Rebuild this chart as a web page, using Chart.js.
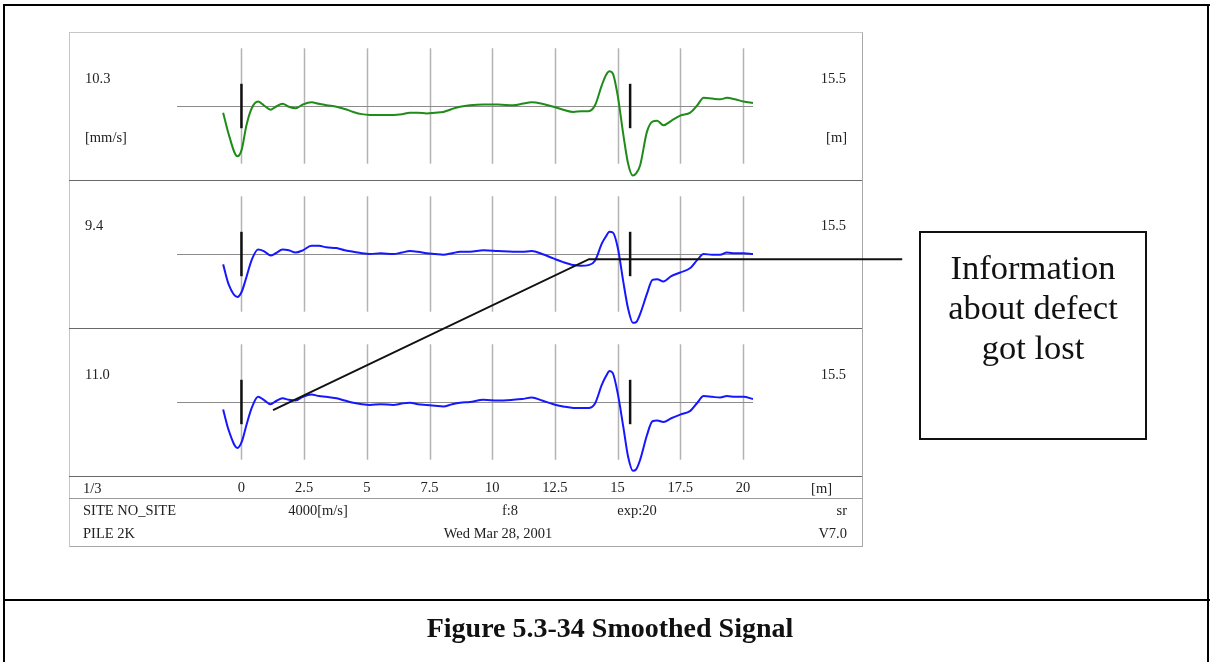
<!DOCTYPE html>
<html>
<head>
<meta charset="utf-8">
<script src="https://cdn.jsdelivr.net/npm/chart.js@4.4.1/dist/chart.umd.min.js"></script>
<style>
  html, body { margin: 0; padding: 0; background: #fff; }
  body { width: 1210px; height: 662px; position: relative; overflow: hidden;
         font-family: "Liberation Serif", "Times New Roman", serif; color: #222; }
  .rule { position: absolute; background: #000; }
  .t { position: absolute; font-size: 14.5px; line-height: 16px; white-space: nowrap; }
  .c { transform: translateX(-50%); }
  #box { position: absolute; left: 69px; top: 32px; width: 792px; height: 513px;
         border: 1px solid #c6c6c6; border-right-color: #a8a8a8; border-bottom-color: #a8a8a8; }
  .sep { position: absolute; left: 69px; width: 793px; height: 1px; background: #6a6a6a; }
  #chart { position: absolute; left: 0; top: 0; }
  #note { position: absolute; left: 919px; top: 231px; width: 224px; height: 191px;
          border: 2px solid #111; text-align: center; font-size: 34.5px; line-height: 40px;
          color: #111; padding-top: 14px; box-sizing: content-box; }
  #caption { position: absolute; left: 610px; top: 611px; transform: translateX(-50%);
             font-weight: bold; font-size: 28px; line-height: 34px; color: #111; white-space: nowrap; }
</style>
</head>
<body>
<!-- page frame -->
<div class="rule" style="left:3px;top:4px;width:1207px;height:2px"></div>
<div class="rule" style="left:3px;top:4px;width:2px;height:658px"></div>
<div class="rule" style="left:1207px;top:4px;width:2px;height:658px"></div>
<div class="rule" style="left:3px;top:599px;width:1207px;height:2px"></div>

<!-- printout box with panel separators -->
<div id="box"></div>
<div class="sep" style="top:180px"></div>
<div class="sep" style="top:328px"></div>
<div class="sep" style="top:476px"></div>
<div class="sep" style="top:498px;background:#9a9a9a"></div>

<canvas id="chart" width="1210" height="662"></canvas>
<div id="labels"></div>

<div id="note">Information<br>about defect<br>got lost</div>
<div id="caption">Figure 5.3-34 Smoothed Signal</div>

<script>
// Distance along the pile [m], shared by the three traces
const distance = [
  -0.73, -0.51, -0.16, 0.01, 0.20, 0.41, 0.66, 0.89, 1.16, 1.37,
  1.64, 1.89, 2.16, 2.45, 2.79, 3.09, 3.39, 3.79, 4.12, 4.46,
  4.80, 5.12, 5.56, 6.05, 6.40, 6.72, 7.04, 7.39, 7.72, 8.05,
  8.40, 8.72, 9.11, 9.65, 10.23, 10.84, 11.19, 11.58, 11.99, 12.44,
  12.83, 13.24, 13.55, 13.84, 14.10, 14.37, 14.54, 14.68, 14.81, 15.01,
  15.23, 15.42, 15.61, 15.74, 15.90, 16.17, 16.39, 16.58, 16.83, 17.14,
  17.50, 17.90, 18.18, 18.43, 18.77, 19.09, 19.36, 19.69, 20.02, 20.40
];

// Relative velocity, trace 1 (original record)
const velocityA = [
  -0.09, -0.38, -0.68, -0.59, -0.26, -0.03, 0.06, 0.01, -0.05, -0.01,
  0.03, -0.01, -0.03, 0.02, 0.05, 0.03, 0.01, -0.01, -0.04, -0.08,
  -0.11, -0.12, -0.12, -0.12, -0.11, -0.09, -0.09, -0.10, -0.09, -0.08,
  -0.04, -0.01, 0.01, 0.02, 0.02, 0.01, 0.03, 0.05, 0.03, -0.01,
  -0.05, -0.08, -0.07, -0.07, 0.01, 0.28, 0.42, 0.47, 0.44, 0.13,
  -0.39, -0.78, -0.94, -0.91, -0.80, -0.35, -0.21, -0.20, -0.26, -0.20,
  -0.13, -0.09, 0.01, 0.11, 0.10, 0.09, 0.11, 0.09, 0.06, 0.04
];

// Relative velocity, trace 2
const velocityB = [
  -0.14, -0.41, -0.58, -0.51, -0.31, -0.08, 0.06, 0.04, -0.02, 0.01,
  0.06, 0.05, 0.02, 0.05, 0.11, 0.11, 0.09, 0.08, 0.05, 0.03,
  0.01, 0.00, 0.01, 0.00, 0.02, 0.04, 0.03, 0.01, 0.00, -0.01,
  0.01, 0.03, 0.03, 0.05, 0.04, 0.03, 0.03, 0.04, 0.00, -0.06,
  -0.11, -0.15, -0.16, -0.15, -0.09, 0.14, 0.24, 0.30, 0.29, 0.08,
  -0.38, -0.74, -0.93, -0.92, -0.81, -0.54, -0.35, -0.34, -0.37, -0.30,
  -0.25, -0.19, -0.08, 0.00, -0.01, -0.01, 0.02, 0.01, 0.01, 0.00
];

// Relative velocity, trace 3
const velocityC = [
  -0.10, -0.38, -0.62, -0.54, -0.31, -0.08, 0.07, 0.03, -0.03, 0.01,
  0.05, 0.03, 0.02, 0.07, 0.10, 0.08, 0.07, 0.05, 0.02, -0.01,
  -0.03, -0.04, -0.03, -0.04, -0.02, -0.01, -0.03, -0.04, -0.05, -0.06,
  -0.03, -0.01, 0.00, 0.03, 0.02, 0.03, 0.04, 0.06, 0.02, -0.03,
  -0.06, -0.08, -0.08, -0.08, -0.02, 0.23, 0.35, 0.42, 0.39, 0.11,
  -0.34, -0.74, -0.93, -0.91, -0.78, -0.45, -0.26, -0.25, -0.27, -0.22,
  -0.17, -0.12, -0.01, 0.08, 0.07, 0.06, 0.08, 0.07, 0.07, 0.04
];

const traceColors = ['#1f8c1a', '#1717ff', '#1717ff'];
const traceGains = ['10.3', '9.4', '11.0'];
const tickValues = [0, 2.5, 5, 7.5, 10, 12.5, 15, 17.5, 20];
const tickLabels = ['0', '2.5', '5', '7.5', '10', '12.5', '15', '17.5', '20'];
const markerPositions = [0, 15.5];       // toe marker at 15.5 m
const distanceRange = [-2.57, 20.4];     // extent of the zero line
const gridReach = 0.78;                  // half height of the distance grid
const markerReach = 0.3;                 // half height of the markers

// Pointer from the flattened section to the remark box: [distance, value, panel]
const pointerPath = [[1.26, -0.11, 'yC'], [13.86, -0.07, 'yB'], [26.35, -0.07, 'yB']];

const panelAxes = ['yA', 'yB', 'yC'];
const series = [velocityA, velocityB, velocityC];

const datasets = series.map((vals, i) => ({
  data: distance.map((d, k) => ({ x: d, y: vals[k] })),
  yAxisID: panelAxes[i],
  borderColor: traceColors[i],
  borderWidth: 2,
  pointRadius: 0,
  fill: false,
  cubicInterpolationMode: 'monotone'
}));

function panelScale(weight) {
  return { type: 'linear', position: 'left', stack: 'panels', stackWeight: 1, weight,
           min: -1, max: 1, display: false };
}

function strokeLine(ctx, x1, y1, x2, y2) {
  ctx.beginPath(); ctx.moveTo(x1, y1); ctx.lineTo(x2, y2); ctx.stroke();
}

const printout = {
  id: 'printout',
  beforeDatasetsDraw(chart) {
    const ctx = chart.ctx, xs = chart.scales.x;
    ctx.save();
    panelAxes.forEach(id => {
      const ys = chart.scales[id];
      ctx.strokeStyle = '#b3b3b3';
      ctx.lineWidth = 1.5;
      tickValues.forEach(t => {
        const px = Math.round(xs.getPixelForValue(t)) + 0.5;
        strokeLine(ctx, px, ys.getPixelForValue(gridReach), px, ys.getPixelForValue(-gridReach));
      });
      ctx.strokeStyle = '#8c8c8c';
      ctx.lineWidth = 1;
      const py = Math.round(ys.getPixelForValue(0)) + 0.5;
      strokeLine(ctx, xs.getPixelForValue(distanceRange[0]), py, xs.getPixelForValue(distanceRange[1]), py);
    });
    ctx.restore();
  },
  afterDatasetsDraw(chart) {
    const ctx = chart.ctx, xs = chart.scales.x;
    ctx.save();
    // markers
    ctx.strokeStyle = '#111';
    ctx.lineWidth = 2.5;
    panelAxes.forEach(id => {
      const ys = chart.scales[id];
      markerPositions.forEach(m => {
        const px = xs.getPixelForValue(m);
        strokeLine(ctx, px, ys.getPixelForValue(markerReach), px, ys.getPixelForValue(-markerReach));
      });
    });
    // pointer to the remark
    ctx.lineWidth = 2;
    ctx.beginPath();
    pointerPath.forEach(([d, v, id], k) => {
      const px = xs.getPixelForValue(d), py = chart.scales[id].getPixelForValue(v);
      if (k === 0) ctx.moveTo(px, py); else ctx.lineTo(px, py);
    });
    ctx.stroke();
    // distance tick labels
    ctx.fillStyle = '#222';
    ctx.font = '14.5px "Liberation Serif", serif';
    ctx.textAlign = 'center';
    ctx.textBaseline = 'middle';
    tickValues.forEach((t, k) => {
      ctx.fillText(tickLabels[k], xs.getPixelForValue(t), chart.chartArea.bottom + 12);
    });
    ctx.restore();
  }
};

new Chart(document.getElementById('chart'), {
  type: 'line',
  data: { datasets },
  options: {
    responsive: false,
    animation: false,
    devicePixelRatio: 1,
    layout: { padding: { left: 177, right: 457, top: 32, bottom: 186 } },
    plugins: { legend: { display: false }, tooltip: { enabled: false } },
    scales: {
      x: { type: 'linear', min: distanceRange[0], max: distanceRange[1], display: false },
      yA: panelScale(3),
      yB: panelScale(2),
      yC: panelScale(1)
    }
  },
  plugins: [printout]
});

// printout header / footer texts
const labelSpecs = [];
const panelCenters = [78, 225, 374];
traceGains.forEach((g, i) => {
  labelSpecs.push({ text: g, left: 85, top: panelCenters[i] - 8 });
  labelSpecs.push({ text: markerPositions[1].toFixed(1), right: 364, top: panelCenters[i] - 8 });
});
labelSpecs.push({ text: '[mm/s]', left: 85, top: 129 });
labelSpecs.push({ text: '[m]', right: 363, top: 129 });
labelSpecs.push({ text: '1/3', left: 83, top: 480 });
labelSpecs.push({ text: '[m]', right: 378, top: 480 });
labelSpecs.push({ text: 'SITE NO_SITE', left: 83, top: 502 });
labelSpecs.push({ text: '4000[m/s]', center: 318, top: 502 });
labelSpecs.push({ text: 'f:8', center: 510, top: 502 });
labelSpecs.push({ text: 'exp:20', center: 637, top: 502 });
labelSpecs.push({ text: 'sr', right: 363, top: 502 });
labelSpecs.push({ text: 'PILE 2K', left: 83, top: 525 });
labelSpecs.push({ text: 'Wed Mar 28, 2001', center: 498, top: 525 });
labelSpecs.push({ text: 'V7.0', right: 363, top: 525 });

const holder = document.getElementById('labels');
labelSpecs.forEach(s => {
  const el = document.createElement('div');
  el.className = 't' + (s.center !== undefined ? ' c' : '');
  el.textContent = s.text;
  el.style.top = s.top + 'px';
  if (s.left !== undefined) el.style.left = s.left + 'px';
  if (s.right !== undefined) el.style.right = s.right + 'px';
  if (s.center !== undefined) el.style.left = s.center + 'px';
  holder.appendChild(el);
});
</script>
</body>
</html>
